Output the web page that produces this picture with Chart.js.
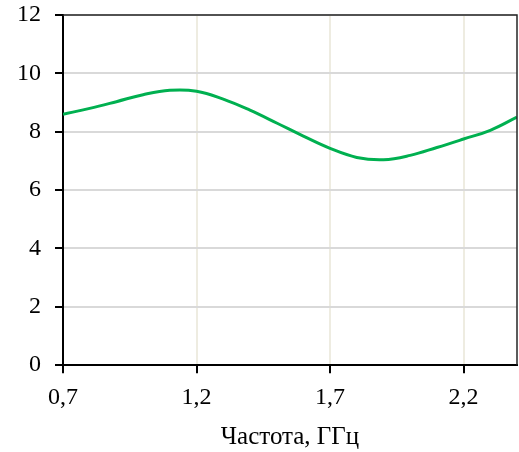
<!DOCTYPE html>
<html>
<head>
<meta charset="utf-8">
<script src="https://cdn.jsdelivr.net/npm/chart.js@4/dist/chart.umd.min.js"></script>
<style>
  html, body { margin: 0; padding: 0; background: #fff; }
  #wrap { width: 519px; height: 452px; }
</style>
</head>
<body>
<div id="wrap"><canvas id="freqChart"></canvas></div>
<script>
// частота, ГГц
const freq = [0.7, 0.8, 0.9, 1.0, 1.1, 1.2, 1.3, 1.4, 1.5, 1.6, 1.7, 1.8, 1.9, 2.0, 2.1, 2.2, 2.3, 2.4];
// значения кривой
const gain = [8.60, 8.80, 9.03, 9.27, 9.42, 9.39, 9.12, 8.74, 8.30, 7.85, 7.43, 7.12, 7.04, 7.19, 7.46, 7.75, 8.05, 8.50];
// подписи оси X
const xTicks = [0.7, 1.2, 1.7, 2.2];

const fontFamily = '"Liberation Serif", "Times New Roman", serif';

// рамка сверху и справа
const frame = {
    id: 'frame',
    afterDraw(chart) {
        const a = chart.chartArea;
        const ctx = chart.ctx;
        ctx.save();
        ctx.strokeStyle = '#262626';
        ctx.lineWidth = 1.5;
        ctx.beginPath();
        ctx.moveTo(a.left, a.top);
        ctx.lineTo(a.right, a.top);
        ctx.lineTo(a.right, a.bottom);
        ctx.stroke();
        ctx.restore();
    }
};

const ctx = document.getElementById('freqChart').getContext('2d');
const myChart = new Chart(ctx, {
    type: 'line',
    data: {
        datasets: [{
            data: freq.map((f, i) => ({ x: f, y: gain[i] })),
            borderColor: '#00b050',
            borderWidth: 3,
            pointRadius: 0,
            tension: 0.4,
            fill: false
        }]
    },
    options: {
        responsive: true,
        maintainAspectRatio: false,
        animation: false,
        layout: { padding: { top: 15, right: 2, left: 3, bottom: 0 } },
        plugins: {
            legend: { display: false },
            tooltip: { enabled: false }
        },
        scales: {
            x: {
                type: 'linear',
                min: 0.7,
                max: 2.4,
                afterBuildTicks: axis => {
                    axis.ticks = xTicks.map(v => ({ value: v }));
                },
                ticks: {
                    color: '#000',
                    font: { family: fontFamily, size: 24 },
                    padding: 10,
                    maxRotation: 0,
                    callback: v => v.toFixed(1).replace('.', ',')
                },
                grid: {
                    color: '#eeece1',
                    lineWidth: 2,
                    tickColor: '#000',
                    tickLength: 8
                },
                border: { color: '#000', width: 2 },
                title: {
                    display: true,
                    text: 'Частота, ГГц',
                    color: '#000',
                    font: { family: fontFamily, size: 25 },
                    padding: { top: 0, bottom: 0 }
                }
            },
            y: {
                min: 0,
                max: 12,
                afterFit: axis => {
                    axis.paddingTop = 0;
                    axis.paddingBottom = 0;
                },
                ticks: {
                    stepSize: 2,
                    color: '#000',
                    font: { family: fontFamily, size: 24 },
                    padding: 14
                },
                grid: {
                    color: '#d9d9d9',
                    lineWidth: 2,
                    tickColor: '#000',
                    tickLength: 8
                },
                border: { color: '#000', width: 2 }
            }
        }
    },
    plugins: [frame]
});
</script>
</body>
</html>
